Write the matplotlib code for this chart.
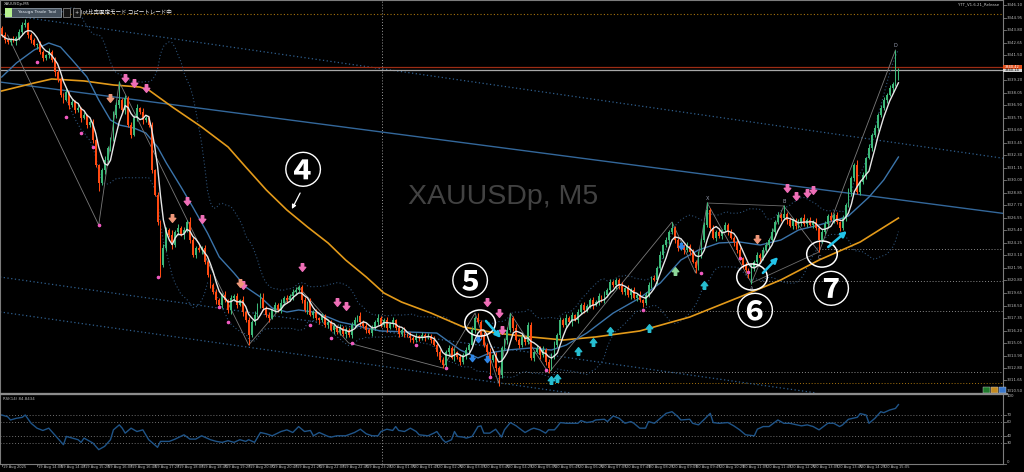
import numpy as np
import pandas as pd
import matplotlib
matplotlib.use("Agg")
import matplotlib.pyplot as plt
from matplotlib.patches import Ellipse, Rectangle
from matplotlib.path import Path
from matplotlib.lines import Line2D
from matplotlib.transforms import blended_transform_factory

# ---------------------------------------------------------------- data
symbol = "XAUUSDp"
timeframe = "M5"

first_open = 3344.01
closes = [
    3343.36, 3342.90, 3342.72, 3342.90, 3342.81, 3343.09, 3343.64, 3344.28, 3344.46, 3343.36,
    3342.90, 3342.44, 3342.53, 3341.80, 3341.25, 3341.52, 3341.80, 3341.06, 3339.96, 3339.23,
    3337.85, 3337.39, 3338.12, 3336.93, 3337.20, 3336.47, 3336.65, 3335.73, 3336.01, 3335.09,
    3335.37, 3333.71, 3331.41, 3329.76, 3330.95, 3331.87, 3332.98, 3333.71, 3336.01, 3336.93,
    3337.39, 3336.47, 3337.57, 3335.09, 3334.17, 3335.73, 3336.65, 3336.28, 3335.55, 3335.73,
    3335.09, 3330.95, 3328.66, 3326.18, 3322.22, 3323.79, 3325.44, 3324.98, 3324.06, 3325.26,
    3325.62, 3324.98, 3325.44, 3326.18, 3324.52, 3323.14, 3323.79, 3323.60, 3323.79, 3322.50,
    3321.31, 3320.39, 3319.74, 3319.01, 3318.55, 3319.47, 3319.01, 3318.09, 3319.19, 3319.38,
    3318.55, 3319.01, 3317.90, 3317.17, 3315.79, 3316.99, 3317.63, 3318.55, 3319.19, 3318.27,
    3317.63, 3317.35, 3318.09, 3318.55, 3318.09, 3318.73, 3319.19, 3319.01, 3319.38, 3319.74,
    3319.93, 3320.20, 3319.01, 3318.09, 3318.82, 3317.63, 3317.90, 3317.35, 3317.17, 3317.54,
    3316.71, 3316.99, 3316.25, 3316.62, 3316.07, 3316.43, 3315.88, 3316.25, 3315.79, 3316.71,
    3317.17, 3317.54, 3316.99, 3316.62, 3316.25, 3315.97, 3316.43, 3316.99, 3317.35, 3316.71,
    3317.17, 3316.43, 3316.80, 3317.17, 3316.43, 3315.88, 3316.25, 3315.88, 3315.70, 3315.51,
    3315.33, 3315.70, 3315.51, 3315.79, 3315.61, 3315.70, 3315.33, 3314.87, 3314.23, 3313.49,
    3313.03, 3314.23, 3314.60, 3313.68, 3314.23, 3313.77, 3313.31, 3313.95, 3314.41, 3314.87,
    3316.25, 3317.35, 3316.99, 3315.79, 3314.87, 3314.23, 3313.49, 3313.95, 3312.76, 3312.11,
    3314.60, 3315.33, 3316.25, 3317.35, 3316.43, 3315.33, 3314.87, 3315.61, 3315.15, 3316.71,
    3313.68, 3314.23, 3314.60, 3313.95, 3314.41, 3313.31, 3312.76, 3313.95, 3314.87, 3315.79,
    3317.17, 3316.71, 3317.35, 3316.99, 3317.63, 3317.17, 3317.90, 3318.55, 3318.09, 3318.46,
    3319.01, 3318.55, 3318.82, 3319.38, 3319.01, 3319.47, 3319.93, 3320.66, 3320.39, 3320.85,
    3320.29, 3319.74, 3320.11, 3319.47, 3319.93, 3319.19, 3319.47, 3319.01, 3318.73, 3319.47,
    3320.39, 3321.03, 3320.85, 3321.95, 3323.14, 3324.06, 3324.52, 3325.26, 3325.62, 3324.52,
    3323.79, 3324.06, 3323.60, 3323.97, 3323.42, 3322.50, 3321.95, 3323.14, 3324.52, 3325.90,
    3327.28, 3325.62, 3324.71, 3325.26, 3324.89, 3325.44, 3325.90, 3325.26, 3324.71, 3324.34,
    3323.60, 3322.87, 3322.22, 3321.76, 3321.31, 3321.95, 3322.50, 3323.14, 3322.87, 3323.60,
    3324.06, 3324.52, 3325.26, 3326.18, 3326.82, 3326.54, 3326.91, 3326.36, 3325.81, 3326.36,
    3325.81, 3326.18, 3326.54, 3325.99, 3326.36, 3325.90, 3326.18, 3325.62, 3324.52, 3325.26,
    3325.99, 3326.73, 3326.36, 3326.82, 3326.18, 3325.62, 3326.54, 3327.74, 3328.93, 3330.22,
    3331.41, 3328.93, 3329.85, 3330.49, 3332.06, 3332.98, 3334.17, 3334.81, 3336.01, 3336.65,
    3337.39, 3337.85, 3338.49, 3338.86, 3339.50, 3340.14,
]
# wick lengths in tenths of a dollar, one base-36 digit per bar
upper_wick_tenths = (
    "2312423341 2213214232 3241325131 2321242343 h232334142 2313243252 "
    "4232532423 2123224132 3142324255 2313242323 3223142313 2323142323 "
    "3142323242 2323132314 2313232423 3232413232 3252324132 2235242313 "
    "3132423242 3242313232 2323142322 2413232413 3232413262 2314232423 "
    "7232413232 2313242323 3242328232 2314232423 3242313242 2523142323 3232p2"
)
lower_wick_tenths = (
    "2323142323 3142323242 2314232413 2327242313 3242313242 2313b23242 "
    "3142323242 2324132343 3142923232 2413232314 3232413242 2314232423 "
    "3242313232 2413232314 3232423142 3241323242 231423g23a 3242313232 "
    "2314235242 3232413232 2413232324 3232413242 2314232423 3242315232 "
    "2413232314 3232383242 2314232413 32423132b3 2413232324 3232413232 231423"
)

bid_price = 3340.14
ask_price = 3340.42

# slow moving average (bar, price)
ma_slow_points = [
    (0, 3338.22), (11, 3338.95), (17, 3339.32), (28, 3339.14), (38, 3338.77), (47, 3338.58),
    (50, 3338.31), (58, 3336.75), (68, 3334.91), (77, 3333.07), (83, 3331.23), (90, 3329.12),
    (97, 3327.28), (104, 3325.72), (111, 3324.25), (117, 3322.68), (124, 3321.12), (130, 3319.65),
    (136, 3318.82), (146, 3317.81), (157, 3316.53), (168, 3315.97), (180, 3315.61), (191, 3315.33),
    (202, 3315.61), (217, 3316.16), (234, 3317.44), (251, 3319.28), (265, 3320.85), (278, 3322.68),
    (292, 3324.34), (305, 3326.54),
]
# medium moving average (bar, price)
ma_mid_points = [
    (0, 3339.50), (5, 3340.79), (11, 3341.98), (16, 3342.63), (20, 3342.26), (24, 3341.06),
    (29, 3339.50), (33, 3337.39), (37, 3335.55), (40, 3335.09), (45, 3334.81), (49, 3334.36),
    (53, 3333.07), (56, 3331.60), (61, 3329.39), (65, 3327.55), (70, 3325.16), (74, 3322.96),
    (79, 3321.49), (83, 3320.20), (88, 3319.28), (92, 3318.27), (97, 3317.90), (101, 3318.09),
    (106, 3317.90), (111, 3317.44), (115, 3316.99), (120, 3316.71), (124, 3316.43), (129, 3316.16),
    (148, 3315.97), (156, 3314.41), (162, 3313.68), (166, 3314.14), (172, 3314.41), (180, 3314.60),
    (187, 3314.41), (192, 3314.87), (199, 3315.97), (208, 3317.81), (217, 3319.19), (224, 3320.57),
    (231, 3322.68), (237, 3323.60), (244, 3324.25), (251, 3324.34), (258, 3324.06), (265, 3324.52),
    (271, 3325.44), (278, 3325.90), (285, 3326.45), (288, 3326.73), (295, 3328.47), (300, 3330.04),
    (305, 3332.15),
]

# RSI(14) (bar, value)
rsi_points = [
    (0, 70.0), (2, 67.6), (3, 62.9), (5, 65.3), (7, 66.7), (8, 70.0), (10, 58.2), (12, 51.2),
    (14, 47.9), (16, 51.2), (18, 41.7), (19, 37.0), (21, 27.6), (22, 39.4), (24, 37.0), (26, 34.7),
    (27, 30.9), (28, 37.0), (30, 32.3), (31, 30.0), (33, 20.5), (35, 25.2), (37, 34.7), (38, 48.8),
    (40, 55.9), (41, 51.2), (42, 44.1), (44, 51.2), (46, 46.4), (48, 48.8), (50, 34.7), (52, 27.6),
    (53, 23.8), (54, 32.3), (57, 32.3), (59, 35.6), (62, 41.7), (64, 35.6), (66, 35.6), (68, 40.3),
    (71, 34.7), (73, 32.3), (75, 30.9), (77, 33.3), (79, 30.9), (81, 34.7), (83, 32.3), (84, 34.7),
    (86, 30.9), (88, 45.0), (90, 43.1), (92, 40.3), (95, 46.4), (97, 48.8), (99, 45.0), (101, 53.5),
    (103, 46.4), (105, 47.9), (106, 40.3), (108, 45.0), (111, 39.4), (112, 38.4), (114, 40.3),
    (117, 40.3), (120, 45.0), (122, 49.7), (124, 43.1), (126, 40.3), (128, 40.3), (129, 46.4),
    (131, 49.7), (133, 47.9), (134, 53.5), (135, 47.9), (137, 46.4), (139, 51.2), (141, 46.4),
    (142, 41.7), (145, 40.3), (147, 44.1), (148, 46.4), (150, 34.7), (151, 30.9), (153, 34.7),
    (154, 46.4), (155, 39.4), (157, 38.4), (158, 37.0), (160, 39.4), (162, 53.5), (163, 54.5),
    (164, 44.1), (166, 44.1), (168, 49.7), (170, 38.4), (171, 48.8), (173, 59.2), (175, 54.5),
    (176, 51.2), (178, 45.0), (180, 49.7), (181, 51.2), (183, 48.8), (185, 44.1), (186, 48.8),
    (188, 48.8), (189, 53.5), (190, 59.2), (192, 58.2), (196, 58.2), (197, 62.0), (199, 59.2),
    (201, 60.6), (202, 62.9), (205, 63.9), (206, 60.6), (208, 68.6), (210, 65.3), (212, 58.2),
    (214, 60.6), (215, 58.2), (217, 51.2), (219, 51.2), (220, 60.6), (222, 58.2), (224, 65.3),
    (226, 72.4), (228, 74.7), (230, 67.6), (231, 62.9), (234, 63.9), (235, 58.2), (237, 55.9),
    (239, 63.9), (241, 72.4), (242, 59.2), (244, 58.2), (247, 59.2), (249, 54.5), (251, 48.8),
    (253, 41.7), (256, 40.3), (257, 49.7), (259, 53.5), (261, 53.5), (264, 62.9), (266, 58.2),
    (268, 58.2), (272, 54.5), (274, 55.9), (276, 53.5), (278, 48.8), (281, 58.2), (283, 58.2),
    (285, 53.5), (286, 55.9), (288, 63.9), (291, 66.7), (292, 72.0), (294, 70.0), (295, 58.2),
    (297, 65.3), (299, 74.7), (300, 73.3), (302, 77.1), (304, 79.4), (305, 84.8434),
]
rsi_levels = [70, 60, 40, 30]

price_labels = [
    "3346.10", "3344.95", "3343.80", "3342.65", "3341.50", "3339.20", "3338.05", "3336.90",
    "3335.75", "3334.60", "3333.45", "3332.30", "3331.15", "3330.00", "3328.85", "3327.70",
    "3326.55", "3325.40", "3324.25", "3323.10", "3321.95", "3320.80", "3319.65", "3318.50",
    "3317.35", "3316.20", "3315.05", "3313.90", "3312.80", "3311.65", "3310.50",
]
time_labels = [
    (0, "19 Aug 2025"), (12, "19 Aug 14:00"), (20, "19 Aug 14:40"), (28, "19 Aug 15:20"),
    (36, "19 Aug 16:00"), (44, "19 Aug 16:40"), (52, "19 Aug 17:20"), (60, "19 Aug 18:00"),
    (68, "19 Aug 18:40"), (76, "19 Aug 19:20"), (84, "19 Aug 20:00"), (92, "19 Aug 20:40"),
    (100, "19 Aug 21:20"), (108, "19 Aug 22:00"), (116, "19 Aug 22:40"), (124, "19 Aug 23:20"),
    (132, "20 Aug 01:05"), (140, "20 Aug 01:45"), (148, "20 Aug 02:25"), (156, "20 Aug 03:05"),
    (164, "20 Aug 03:45"), (172, "20 Aug 04:25"), (180, "20 Aug 05:05"), (188, "20 Aug 05:45"),
    (196, "20 Aug 06:25"), (204, "20 Aug 07:05"), (212, "20 Aug 07:45"), (220, "20 Aug 08:25"),
    (228, "20 Aug 09:05"), (236, "20 Aug 09:45"), (244, "20 Aug 10:25"), (252, "20 Aug 11:05"),
    (260, "20 Aug 11:45"), (268, "20 Aug 12:25"), (276, "20 Aug 13:05"), (284, "20 Aug 13:45"),
    (292, "20 Aug 14:25"), (300, "20 Aug 15:05"),
]
day_break = 129.5

# trend channel lines: two anchors (bar, price) each
channel_solid = [((0, 3339.02), (340, 3326.99))]
channel_dotted = [((0, 3345.29), (340, 3332.06)),
                  ((0, 3321.10), (340, 3308.05)),
                  ((0, 3317.89), (340, 3304.83))]

# horizontal levels (price, first bar)
level_top = 3345.29
levels_grey = [(3323.69, 278), (3320.75, 258), (3318.00, 210), (3312.39, 171)]
levels_orange = [(3311.38, 170)]

# swing line and harmonic points
zigzag = [(2, 3343.36), (33, 3325.90), (40, 3339.04), (84, 3314.87), (101, 3320.20),
          (118, 3315.06), (150, 3312.76), (161, 3317.81), (169, 3311.38), (173, 3317.81),
          (186, 3312.30), (228, 3326.18), (236, 3321.49), (240, 3327.92), (255, 3320.57),
          (266, 3327.65), (278, 3323.42), (304, 3341.98)]
pattern_points = {"X": (240, 3327.92), "A": (255, 3320.57), "B": (266, 3327.65),
                  "C": (278, 3323.42), "D": (304, 3341.98)}

# signal arrows (bar, price)
sell_signals = [(42, 3339.41), (45, 3338.95), (49, 3338.49), (63, 3328.11), (68, 3326.45),
                (82, 3320.39), (102, 3322.04), (114, 3318.82), (117, 3318.46), (165, 3318.82),
                (169, 3317.81), (170, 3316.25), (267, 3329.30), (270, 3328.57), (274, 3328.84),
                (276, 3329.12)]
sell_signals_weak = [(37, 3337.57), (58, 3326.54), (81, 3320.57), (257, 3324.61)]
buy_signals = [(187, 3311.65), (189, 3311.84), (196, 3314.32), (201, 3315.15), (207, 3316.16),
               (220, 3316.43), (239, 3320.39)]
buy_signals_weak = [(229, 3321.67)]
entry_marks = [(160, 3313.68), (162, 3315.42), (165, 3313.58), (231, 3323.97)]
swing_dots = [(12, 3340.88), (22, 3335.83), (27, 3334.36), (31, 3333.07), (33, 3325.90),
              (53, 3321.12), (74, 3318.36), (77, 3316.99), (105, 3316.71), (112, 3315.51),
              (119, 3315.06), (141, 3314.87), (151, 3312.76), (166, 3311.93), (185, 3312.57),
              (218, 3318.09), (238, 3321.49), (251, 3322.87), (254, 3321.58)]

# numbered notes: label, label position, circled area, arrow
notes = [
    ("④", (102.5, 3330.77), None, ((101.5, 3328.84), (98.7, 3327.37))),
    ("⑤", (159.3, 3320.54), (162.7, 3316.89), ((164.7, 3317.08), (169.8, 3315.51))),
    ("⑥", (256.2, 3317.78), (255.2, 3321.12), ((258.9, 3321.49), (264.1, 3322.96))),
    ("⑦", (282.2, 3319.77), (279.0, 3323.23), ((281.1, 3323.88), (287.5, 3325.35))),
]

# ---------------------------------------------------------------- style
BG = "#000000"
BULL = "#3CB878"
BEAR = "#FF4A12"
GRID_TXT = "#bdbdbd"
FRAME = "#7c7c7c"
DOT = (0, (1, 2))
W, H = 1024, 472
PX_MAIN_BOTTOM, PX_RSI_TOP, PX_RSI_BOTTOM, PX_AXIS = 393, 394, 464, 1003
XLIM = (-0.578, 340.57)
YLIM = (3310.46, 3346.58)
CJK = ["Noto Sans CJK JP", "DejaVu Sans"]

fig = plt.figure(figsize=(W / 100, H / 100), dpi=100, facecolor=BG)
ax = fig.add_axes([0, 1 - PX_MAIN_BOTTOM / H, PX_AXIS / W, PX_MAIN_BOTTOM / H], facecolor=BG)
ax2 = fig.add_axes([0, 1 - PX_RSI_BOTTOM / H, PX_AXIS / W, (PX_RSI_BOTTOM - PX_RSI_TOP) / H],
                   facecolor=BG)
for a in (ax, ax2):
    a.set_xlim(*XLIM)
    a.set_xticks([])
    a.set_yticks([])
    for s in a.spines.values():
        s.set_color(FRAME)
        s.set_linewidth(0.8)
ax.set_ylim(*YLIM)
ax2.set_ylim(0, 100)

# ---------------------------------------------------------------- price pane
c = np.array(closes)
n = len(c)
idx = np.arange(n)
o = np.r_[first_open, c[:-1]]
uw = np.array([int(ch, 36) for ch in upper_wick_tenths.replace(" ", "")]) / 10.0
lw_ = np.array([int(ch, 36) for ch in lower_wick_tenths.replace(" ", "")]) / 10.0
hi = np.maximum(o, c) + uw
lo = np.minimum(o, c) - lw_
col = np.where(c >= o, BULL, BEAR)

ax.text(0.5015, 0.499, f"{symbol}, {timeframe}", transform=ax.transAxes, ha="center",
        va="center", fontsize=20.5, color="#424242", family="Liberation Sans", zorder=0)

# horizontal levels
ax.axhline(level_top, color="#a8740e", ls=DOT, lw=0.8, zorder=1)
for p, start in levels_grey:
    ax.hlines(p, start, XLIM[1], colors="#8a8a8a", linestyles=DOT, lw=0.7, zorder=1)
for p, start in levels_orange:
    ax.hlines(p, start, XLIM[1], colors="#a8740e", linestyles=DOT, lw=0.7, zorder=1)
ax.axvline(day_break, color="#9a9a9a", ls=DOT, lw=0.7, zorder=1)
ax2.axvline(day_break, color="#9a9a9a", ls=DOT, lw=0.7, zorder=1)

# channels
for p1, p2 in channel_solid:
    ax.axline(p1, p2, color="#33679a", lw=1.0, zorder=2)
for p1, p2 in channel_dotted:
    ax.axline(p1, p2, color="#2f5f8e", lw=0.9, ls=DOT, zorder=2)

# bid / ask lines
ax.axhline(ask_price, color="#9c2c14", lw=0.9, zorder=2)
ax.axhline(bid_price, color="#a8a8a8", lw=0.9, zorder=2)

# Bollinger bands (20, 2)
s = pd.Series(c)
m20 = s.rolling(20).mean()
sd20 = s.rolling(20).std(ddof=0)
ax.plot(idx, m20 + 2 * sd20, color="#2c5076", ls=DOT, lw=0.8, zorder=2)
ax.plot(idx, m20 - 2 * sd20, color="#2c5076", ls=DOT, lw=0.8, zorder=2)

# moving averages
mx, my = zip(*ma_slow_points)
ax.plot(mx, my, color="#E39A1A", lw=1.2, zorder=3)
mx, my = zip(*ma_mid_points)
ax.plot(mx, my, color="#3B74AA", lw=1.0, zorder=3)

# zigzag / pattern
zx, zy = zip(*zigzag)
ax.plot(zx, zy, color="#7a7a7a", lw=0.6, zorder=3)
for a_, b_ in (("X", "B"), ("A", "C")):
    (x1, y1), (x2, y2) = pattern_points[a_], pattern_points[b_]
    ax.plot([x1, x2], [y1, y2], color="#6c6c6c", lw=0.6, zorder=3)
for lab, (px, py) in pattern_points.items():
    dy = 0.45 if lab in ("X", "B", "D") else -0.5
    ax.text(px, py + dy, lab, color="#9aa0b4", fontsize=3.6, ha="center", va="center", zorder=8)

# candles
ax.vlines(idx, lo, hi, colors=col, lw=0.75, zorder=4)
ax.bar(idx, np.maximum(np.abs(c - o), 0.04), bottom=np.minimum(o, c), width=0.62,
       color=col, linewidth=0, zorder=5)

# fast moving average
ax.plot(idx, s.rolling(5, min_periods=1).mean(), color="#e6e6e6", lw=1.0, zorder=6)

# signal markers
dn_verts = [(-0.32, 1.0), (0.32, 1.0), (0.32, 0.05), (0.85, 0.05), (0.0, -1.0),
            (-0.85, 0.05), (-0.32, 0.05), (-0.32, 1.0)]
ARROW_DN = Path(dn_verts, closed=True)
ARROW_UP = Path([(x, -y) for x, y in dn_verts], closed=True)


def marks(points, marker, color, size):
    if points:
        xs, ys = zip(*points)
        ax.plot(xs, ys, ls="none", marker=marker, ms=size, color=color, mec=color, zorder=7)


marks(sell_signals, ARROW_DN, "#F06FB8", 5.5)
marks(sell_signals_weak, ARROW_DN, "#F0987A", 5.5)
marks(buy_signals, ARROW_UP, "#27BFD2", 5.5)
marks(buy_signals_weak, ARROW_UP, "#8ED89A", 5.5)
marks(entry_marks, ARROW_DN, "#2F86E6", 4.5)
marks(swing_dots, "o", "#F05AC0", 1.6)

# numbered notes
for label, (tx, ty), circ, arrow in notes:
    ax.text(tx, ty, label, fontsize=27.5, color="white", ha="center", va="center",
            family=CJK, fontweight="bold", zorder=9)
    if circ is not None:
        ax.add_patch(Ellipse(circ, width=10.4, height=2.4, fill=False, ec="white",
                             lw=1.1, zorder=9))
    (x1, y1), (x2, y2) = arrow
    if circ is None:
        ax.annotate("", xy=(x2, y2), xytext=(x1, y1), zorder=9,
                    arrowprops=dict(arrowstyle="-|>", color="white", lw=0.9,
                                    mutation_scale=6, shrinkA=0, shrinkB=0))
    else:
        ax.annotate("", xy=(x2, y2), xytext=(x1, y1), zorder=9,
                    arrowprops=dict(arrowstyle="-|>", color="#22C4EA", lw=1.8,
                                    mutation_scale=8, shrinkA=0, shrinkB=0))

# price scale
tr = blended_transform_factory(ax.transAxes, ax.transData)
for lab in price_labels:
    v = float(lab)
    ax.add_artist(Line2D([1.0, 1.0 + 3 / PX_AXIS], [v, v], transform=tr, color=FRAME,
                         lw=0.6, clip_on=False))
    ax.text(1.0 + 4 / PX_AXIS, v, lab, transform=tr, fontsize=2.8, color=GRID_TXT,
            ha="left", va="bottom" if v < YLIM[0] + 0.2 else "center", clip_on=False)
box_h = 0.36
for price, fc, tc in ((bid_price, "#d4d4d4", "#000000"), (ask_price, "#E4501C", "#ffffff")):
    ax.add_patch(Rectangle((1.0, price - box_h / 2), 19 / PX_AXIS, box_h, transform=tr,
                           fc=fc, ec="none", clip_on=False, zorder=10))
    ax.text(1.0 + 2 / PX_AXIS, price, f"{price:.2f}", transform=tr, fontsize=2.6, color=tc,
            ha="left", va="center", clip_on=False, zorder=11)

# ---------------------------------------------------------------- RSI pane
rx, ry = zip(*rsi_points)
for lv in rsi_levels:
    ax2.axhline(lv, color="#6e6e6e", ls=DOT, lw=0.7)
ax2.plot(rx, ry, color="#1f5488", lw=1.0)
ax2.text(0.003, 0.955, f"RSI(14) {ry[-1]:.4f}", transform=ax2.transAxes, fontsize=2.8,
         color=GRID_TXT, ha="left", va="top")
tr2 = blended_transform_factory(ax2.transAxes, ax2.transData)
for lv in [100] + rsi_levels + [0]:
    ax2.add_artist(Line2D([1.0, 1.0 + 3 / PX_AXIS], [lv, lv], transform=tr2, color=FRAME,
                          lw=0.6, clip_on=False))
    va = "top" if lv == 100 else ("bottom" if lv == 0 else "center")
    ax2.text(1.0 + 4 / PX_AXIS, lv, str(lv), transform=tr2, fontsize=2.8, color=GRID_TXT,
             ha="left", va=va, clip_on=False)

# time scale
tr3 = blended_transform_factory(ax2.transData, ax2.transAxes)
for bar, lab in time_labels:
    ax2.add_artist(Line2D([bar, bar], [0, -0.03], transform=tr3, color=FRAME, lw=0.6,
                          clip_on=False))
    ax2.text(bar + 0.3, -0.045, lab, transform=tr3, fontsize=2.6, color=GRID_TXT,
             ha="left", va="center", clip_on=False)

# ---------------------------------------------------------------- chrome
fig.add_artist(Line2D([0, (PX_AXIS + 4) / W], [1 - 393.6 / H] * 2, color="#8c8c8c", lw=1.6))
fig.text(4 / W, 1 - 3.5 / H, f"{symbol},{timeframe}", fontsize=2.8, color="#cfcfcf",
         ha="left", va="center")
fig.add_artist(Rectangle((5 / W, 1 - 17 / H), 56 / W, 9 / H, transform=fig.transFigure,
                         fc="#46525e", ec="#a4b0bc", lw=0.5))
fig.add_artist(Rectangle((5 / W, 1 - 17 / H), 7 / W, 9 / H, transform=fig.transFigure,
                         fc="#b6f08e", ec="none"))
fig.text(37 / W, 1 - 12.5 / H, "Yasuga Trade Tool", fontsize=3.2, color="#dfe6ee",
         ha="center", va="center")
for x0 in (63, 73):
    fig.add_artist(Rectangle((x0 / W, 1 - 17 / H), 6.5 / W, 9 / H, transform=fig.transFigure,
                             fc="#151515", ec="#9a9a9a", lw=0.5))
fig.text(76.2 / W, 1 - 12.5 / H, "+", fontsize=3.5, color="#dddddd", ha="center", va="center")
fig.text(81 / W, 1 - 12.5 / H, "lot比率固定モード コピートレード中", fontsize=4, color="#f2f2f2",
         ha="left", va="center", family=CJK)
fig.text(999 / W, 1 - 4 / H, "YTT_V1.6.21_Release", fontsize=2.8, color="#c8c8c8",
         ha="right", va="center")
for x0, fc in ((983, "#1f7a2c"), (991, "#c2891e"), (999, "#3a78cc")):
    fig.add_artist(Rectangle((x0 / W, 1 - 392.6 / H), 7.2 / W, 6 / H,
                             transform=fig.transFigure, fc=fc, ec="#cccccc", lw=0.3))

fig.savefig("out.png", dpi=100, facecolor=BG)
